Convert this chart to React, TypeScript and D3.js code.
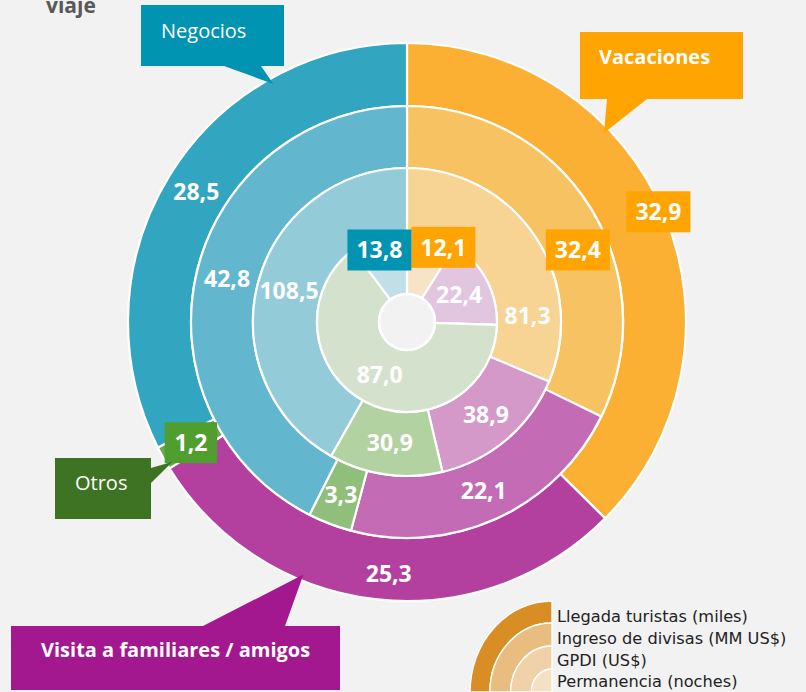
import React from "react";
import * as d3 from "d3";

const W = 806;
const H = 692;

// categories in clockwise order from 12 o'clock
const categories = ["Vacaciones", "Visita", "Otros", "Negocios"];
const rings = [
  "Llegada turistas (miles)",
  "Ingreso de divisas (MM US$)",
  "GPDI (US$)",
  "Permanencia (noches)",
];
const llegada = [32.9, 25.3, 1.2, 28.5];
const ingreso = [32.4, 22.1, 3.3, 42.8];
const gpdi = [81.3, 38.9, 30.9, 108.5];
const permanencia = [12.1, 22.4, 87.0, 13.8];
const ringValues = [llegada, ingreso, gpdi, permanencia];

const ringColors: Record<string, string[]> = {
  Vacaciones: ["#fbb034", "#f7c261", "#f7d394", "#f7e4c6"],
  Visita: ["#b3409f", "#c36bb5", "#d499c9", "#e2c5df"],
  Otros: ["#6aa84f", "#8fbf7a", "#b2d2a2", "#d4e2cd"],
  Negocios: ["#32a5c1", "#62b6cd", "#93cbd8", "#c1dfe6"],
};
const boxColor: Record<string, string> = {
  Vacaciones: "#ffa400",
  Negocios: "#0093b2",
  Otros: "#509e2f",
};
// labels drawn on a coloured box, key = ring-category
const boxed = ["0-Vacaciones", "0-Otros", "1-Vacaciones", "3-Vacaciones", "3-Negocios"];
// small nudges from the slice centroid, like the original layout
const nudge: Record<string, [number, number]> = {
  "0-Vacaciones": [23, -15],
  "0-Visita": [10, 6],
  "1-Vacaciones": [14, 26],
  "2-Vacaciones": [19, 61],
  "3-Vacaciones": [20, -18],
  "3-Negocios": [-9, -16],
};

const legendColors = ["#d98d25", "#e9bc80", "#f0d1a8", "#f4e0c3"];

const callouts = [
  { name: "Negocios", fill: "#0093b2", bold: false, box: [141, 5, 284, 66], side: "bottom", base: [224, 261], angle: 330.7, tx: 161, ty: 38 },
  { name: "Vacaciones", fill: "#ffa400", bold: true, box: [580, 32, 743, 99], side: "bottom", base: [607, 647], angle: 46.2, tx: 599, ty: 64 },
  { name: "Otros", fill: "#3e7324", bold: false, box: [55, 458, 151, 519], side: "right", base: [468, 483], angle: 239.2, tx: 75, ty: 490 },
  { name: "Visita a familiares / amigos", fill: "#a3178f", bold: true, box: [11, 626, 340, 690], side: "top", base: [203, 285], angle: 202.3, tx: 41, ty: 657 },
];

const fmt = (v: number) => v.toFixed(1).replace(".", ",");

export default function App() {
  const cx = 407;
  const cy = 322;
  const radii = [279, 216, 154, 90, 28];

  const pie = d3.pie<number>().sort(null).value((d) => d);

  const tip = (angle: number) => {
    const a = (angle * Math.PI) / 180;
    const r = radii[0] - 6;
    return [cx + r * Math.sin(a), cy - r * Math.cos(a)];
  };

  const calloutPath = (c: typeof callouts[number]) => {
    const [x0, y0, x1, y1] = c.box;
    const [b0, b1] = c.base;
    const [tx, ty] = tip(c.angle);
    if (c.side === "bottom")
      return `M${x0},${y0}H${x1}V${y1}H${b1}L${tx},${ty}L${b0},${y1}H${x0}Z`;
    if (c.side === "top")
      return `M${x0},${y0}H${b0}L${tx},${ty}L${b1},${y0}H${x1}V${y1}H${x0}Z`;
    return `M${x0},${y0}H${x1}V${b0}L${tx},${ty}L${x1},${b1}V${y1}H${x0}Z`;
  };

  const legendArc = d3.arc<any>();
  const lx = 552;
  const ly = 692;
  const lr = [91, 69, 46, 23];

  return (
    <svg width={W} height={H} style={{ position: "absolute", left: 0, top: 0 }}>
      <rect width={W} height={H} fill="#f2f2f2" />
      <text x={46} y={13} fontFamily="Open Sans" fontWeight="bold" fontSize={21} fill="#595959">
        viaje
      </text>

      <g transform={`translate(${cx},${cy})`}>
        {ringValues.map((vals, ri) => {
          const arc = d3.arc<d3.PieArcDatum<number>>().innerRadius(radii[ri + 1]).outerRadius(radii[ri]);
          return pie(vals).map((d, i) => (
            <path
              key={`${ri}-${i}`}
              d={arc(d) || ""}
              fill={ringColors[categories[i]][ri]}
              stroke="#fff"
              strokeWidth={2.2}
            />
          ));
        })}
        <circle r={radii[4]} fill="#f2f2f2" stroke="#fff" strokeWidth={2.5} />
        {ringValues.map((vals, ri) => {
          const arc = d3.arc<d3.PieArcDatum<number>>().innerRadius(radii[ri + 1]).outerRadius(radii[ri]);
          return pie(vals).map((d, i) => {
            const key = `${ri}-${categories[i]}`;
            const [px, py] = arc.centroid(d);
            const [dx, dy] = nudge[key] || [0, 0];
            const x = px + dx;
            const y = py + dy;
            const label = fmt(vals[i]);
            const isBox = boxed.includes(key);
            const bw = label.length * 11.5 + 18;
            return (
              <g key={`l${key}`}>
                {isBox && (
                  <rect x={x - bw / 2} y={y - 20.5} width={bw} height={41} fill={boxColor[categories[i]]} />
                )}
                <text
                  x={x}
                  y={y}
                  dy="0.36em"
                  textAnchor="middle"
                  fontFamily="Open Sans"
                  fontWeight="bold"
                  fontSize={23}
                  fill="#fff"
                >
                  {label}
                </text>
              </g>
            );
          });
        })}
      </g>

      {callouts.map((c) => (
        <g key={c.name}>
          <path d={calloutPath(c)} fill={c.fill} />
          <text
            x={c.tx}
            y={c.ty}
            fontFamily="Open Sans"
            fontWeight={c.bold ? "bold" : "normal"}
            fontSize={20}
            fill="#fff"
          >
            {c.name}
          </text>
        </g>
      ))}

      <g>
        <g transform={`translate(${lx},${ly}) scale(0.9,1)`}>
          {rings.map((r, i) => (
            <path
              key={r}
              d={
                legendArc({
                  innerRadius: i < 3 ? lr[i + 1] : 0,
                  outerRadius: lr[i],
                  startAngle: -Math.PI / 2,
                  endAngle: 0,
                }) || ""
              }
              fill={legendColors[i]}
              stroke="#fff"
              strokeWidth={1.5}
            />
          ))}
        </g>
        {rings.map((r, i) => (
          <text key={`t${r}`} x={557} y={622 + i * 21.8} fontFamily="DejaVu Sans" fontSize={16.2} fill="#222">
            {r}
          </text>
        ))}
      </g>
    </svg>
  );
}
